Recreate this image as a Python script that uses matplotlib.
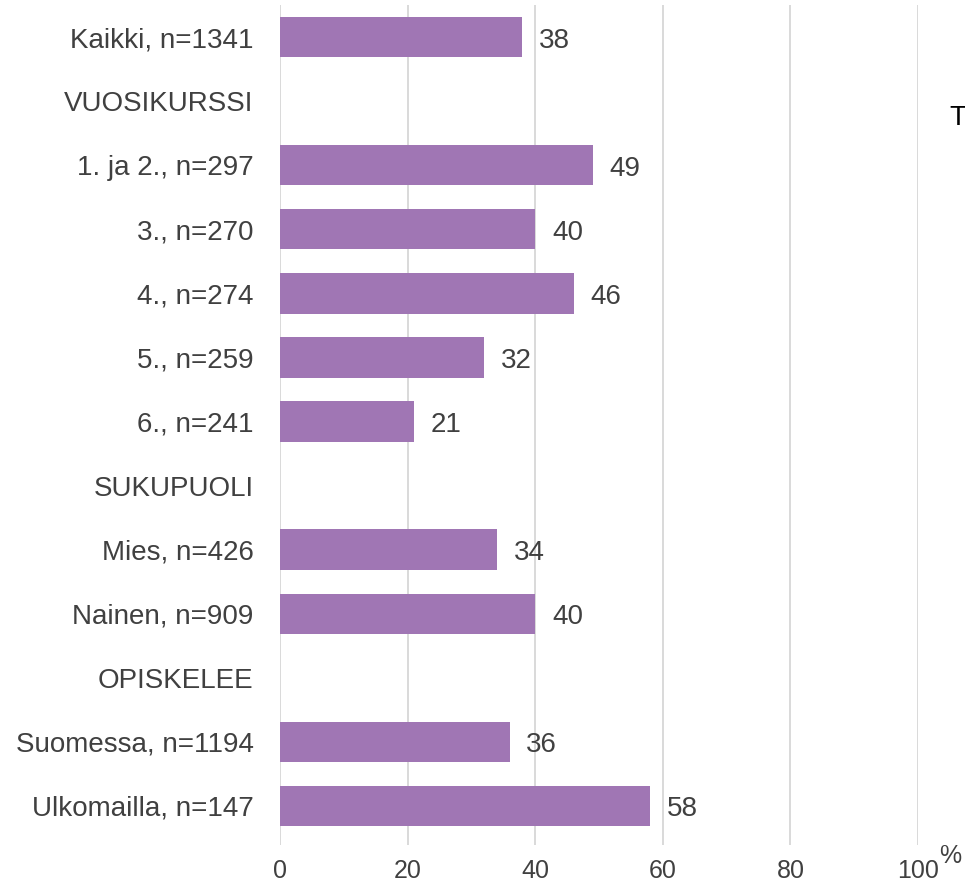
import matplotlib
matplotlib.use("Agg")
import matplotlib.pyplot as plt
import numpy as np

# -----------------------------------------------------------------------------
# Data (header rows have no value)
# -----------------------------------------------------------------------------
categories = [
    "Kaikki, n=1341",
    "VUOSIKURSSI",
    "1. ja 2., n=297",
    "3., n=270",
    "4., n=274",
    "5., n=259",
    "6., n=241",
    "SUKUPUOLI",
    "Mies, n=426",
    "Nainen, n=909",
    "OPISKELEE",
    "Suomessa, n=1194",
    "Ulkomailla, n=147",
]
values = [38, None, 49, 40, 46, 32, 21, None, 34, 40, None, 36, 58]
xticks = [0, 20, 40, 60, 80, 100]

BAR_COLOR = "#A076B4"
TEXT_COLOR = "#404040"

plt.rcParams["font.family"] = ["Liberation Sans", "DejaVu Sans"]

fig = plt.figure(figsize=(9.65, 8.83), dpi=100)
ax = fig.add_axes([0.2902, 0.043, 0.6611, 0.9513])

ypos = np.arange(len(categories))
for y, v in zip(ypos, values):
    if v is None:
        continue
    ax.barh(y, v, height=0.63, color=BAR_COLOR, zorder=3)
    ax.annotate(str(v), xy=(v, y), xytext=(12, -2.5), textcoords="offset points",
                va="center", ha="left", fontsize=20, color=TEXT_COLOR)

ax.set_xlim(0, 100)
ax.set_ylim(12.61, -0.5)
ax.set_xticks(xticks)
ax.set_xticklabels([str(t) for t in xticks], fontsize=18, color=TEXT_COLOR)
ax.set_yticks(ypos)
ax.set_yticklabels(categories, fontsize=20, color=TEXT_COLOR)
ax.tick_params(axis="x", length=0, pad=10)
ax.tick_params(axis="y", length=0, pad=19)

ax.grid(axis="x", color="#D0D0D0", linewidth=1.1, zorder=0)
ax.grid(axis="y", visible=False)
for s in ax.spines.values():
    s.set_visible(False)

# unit mark and title initial at the right edge
fig.text(939 / 965, 1 - 856 / 883, "%", fontsize=18, color=TEXT_COLOR,
         ha="left", va="center")
fig.text(949 / 965, 1 - 118 / 883, "T", fontsize=20, color="black",
         ha="left", va="center")

fig.savefig("out.png", dpi=100)
